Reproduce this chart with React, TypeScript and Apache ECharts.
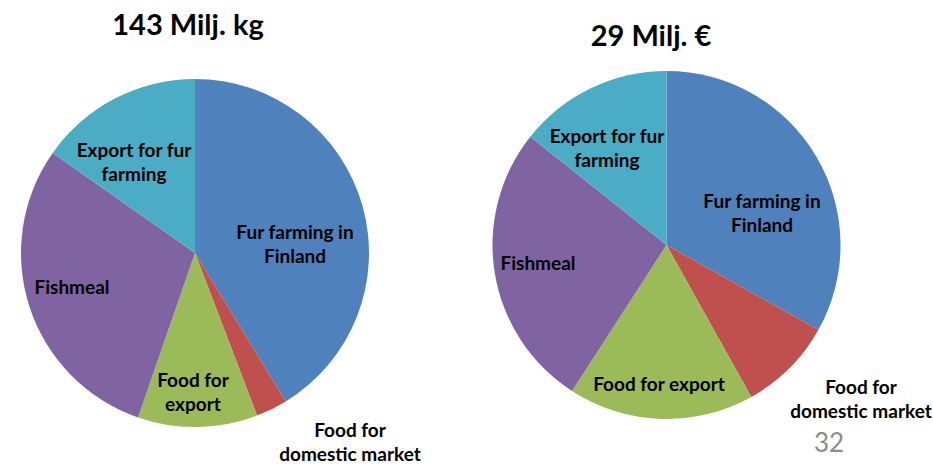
import React, { useEffect, useRef } from "react";
import * as echarts from "echarts";

const categories = [
  "Fur farming in\nFinland",
  "Food for\ndomestic market",
  "Food for\nexport",
  "Fishmeal",
  "Export for fur\nfarming",
];
const categoriesRight = [
  "Fur farming in\nFinland",
  "Food for\ndomestic market",
  "Food for export",
  "Fishmeal",
  "Export for fur\nfarming",
];
// Milj. kg (total 143)
const volumeValues = [59, 4.2, 15.9, 42.1, 21.8];
// Milj. € (total 29)
const valueValues = [9.6, 2.55, 5.0, 7.7, 4.15];
const titles = ["143 Milj. kg", "29 Milj. €"];
const pageNumber = "32";

const colors = ["#4F81BD", "#C0504D", "#9BBB59", "#8064A2", "#4BACC6"];

// label centers (layout only)
const leftLabelPos = [
  [295, 243],
  [350, 441],
  [193, 391],
  [72, 286],
  [134, 161],
];
const rightLabelPos = [
  [762, 212],
  [861, 398],
  [659, 383],
  [538, 262],
  [607, 147],
];

export default function App() {
  const ref = useRef<HTMLDivElement>(null);
  useEffect(() => {
    if (!ref.current) return;
    const chart = echarts.init(ref.current, null, { renderer: "svg" });
    const font = "Lato, 'Open Sans', sans-serif";
    const mkSeries = (
      names: string[],
      values: number[],
      center: number[],
      pos: number[][]
    ) => ({
      type: "pie",
      center,
      radius: 174,
      startAngle: 90,
      clockwise: true,
      avoidLabelOverlap: false,
      silent: true,
      itemStyle: { borderWidth: 0 },
      label: {
        show: true,
        position: "inside",
        formatter: "{b}",
        color: "#000",
        fontFamily: font,
        fontWeight: "bold",
        fontSize: 19,
        lineHeight: 24,
        align: "center",
      },
      labelLine: { show: false },
      labelLayout: (p: any) => ({
        x: pos[p.dataIndex][0],
        y: pos[p.dataIndex][1],
        align: "center",
        verticalAlign: "middle",
      }),
      data: names.map((n, i) => ({
        name: n,
        value: values[i],
        itemStyle: { color: colors[i] },
      })),
    });
    chart.setOption({
      animation: false,
      title: [
        {
          text: titles[0],
          left: 183,
          top: 4,
          textAlign: "center",
          textStyle: { fontFamily: font, fontWeight: "bold", fontSize: 29, color: "#000" },
        },
        {
          text: titles[1],
          left: 646,
          top: 15,
          textAlign: "center",
          textStyle: { fontFamily: font, fontWeight: "bold", fontSize: 29, color: "#000" },
        },
      ],
      graphic: [
        {
          type: "text",
          x: 829,
          y: 442,
          style: {
            text: pageNumber,
            font: "26px Lato, sans-serif",
            fill: "#8C8C8C",
            align: "center",
            verticalAlign: "middle",
          },
        },
      ],
      series: [
        mkSeries(categories, volumeValues, [195, 253], leftLabelPos),
        mkSeries(categoriesRight, valueValues, [666.5, 245], rightLabelPos),
      ],
    });
    return () => chart.dispose();
  }, []);
  return (
    <div
      ref={ref}
      style={{ position: "fixed", left: 0, top: 0, width: 933, height: 466, background: "#fff" }}
    />
  );
}
